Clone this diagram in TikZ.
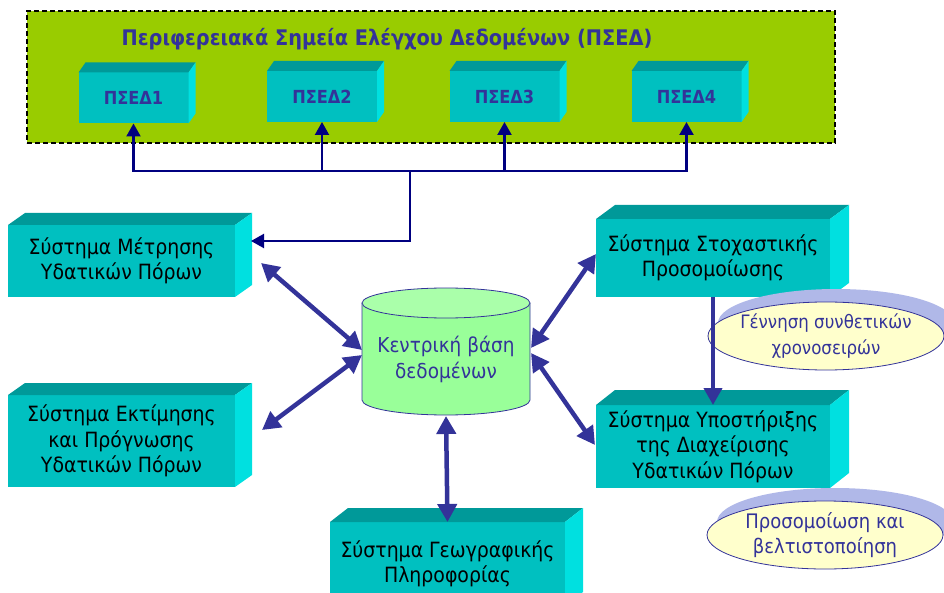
\documentclass[tikz,border=0pt]{standalone}
\usepackage{fontspec}
\setmainfont[FakeStretch=0.9]{DejaVu Sans}
\usetikzlibrary{arrows.meta,calc,shadows,shapes.geometric}
\definecolor{bggreen}{HTML}{99CC00}
\definecolor{frontc}{HTML}{00C0C0}
\definecolor{topc}{HTML}{009999}
\definecolor{sidec}{HTML}{00E0E0}
\definecolor{navyc}{HTML}{000080}
\definecolor{bluec}{HTML}{333399}
\definecolor{dbbody}{HTML}{99FF99}
\definecolor{dbtop}{HTML}{AAFFAA}
\definecolor{ellc}{HTML}{FFFFCC}
\definecolor{shadc}{HTML}{B0B8E8}
\newcommand\boxfaces[3]{%
  \fill[topc] (#1.north west) -- ++(#2,#3) -- ($(#1.north east)+(#2,#3)$) -- (#1.north east) -- cycle;
  \fill[sidec] (#1.north east) -- ++(#2,#3) -- ($(#1.south east)+(#2,#3)$) -- (#1.south east) -- cycle;}
\begin{document}
\begin{tikzpicture}[x=1pt,y=-1pt,
  front/.style={fill=frontc, inner sep=0pt, outer sep=0pt, align=center,
    font=\fontsize{21}{25.5}\selectfont},
  psed/.style={front, minimum width=110pt, minimum height=51pt, text=bluec,
    font=\fontsize{18}{20}\selectfont\bfseries},
  ell/.style={ellipse, draw=bluec, line width=0.8pt, fill=ellc, inner xsep=-30pt, inner ysep=-6pt,
    minimum width=236pt, minimum height=68pt, align=center, text=bluec,
    font=\fontsize{20}{25.5}\selectfont,
    general shadow={fill=shadc, draw=none, shadow xshift=10pt, shadow yshift=13pt}},
  navyarrow/.style={draw=navyc, line width=2.2pt, -{Triangle[length=13pt,width=14pt]}},
  thickarrow/.style={draw=bluec, line width=4.5pt,
    {Triangle[length=18pt,width=19pt]}-{Triangle[length=18pt,width=19pt]}},
  onearrow/.style={draw=bluec, line width=4pt, -{Triangle[length=17pt,width=18pt]}},
]
\useasboundingbox (0,0) rectangle (944,593);

% PSED group
\node[fill=bggreen, draw=black, line width=2pt, dash pattern=on 5pt off 3pt,
  minimum width=808pt, minimum height=132pt, inner sep=0pt] (grp) at (431,77) {};
\node[text=bluec, font=\fontsize{21.5}{24}\selectfont\bfseries, anchor=base] (title) at (387,46)
  {Περιφερειακά Σημεία Ελέγχου Δεδομένων (ΠΣΕΔ)};
\node[psed] (p1) at (133.5,98) {ΠΣΕΔ1};
\node[psed] (p2) at (322,96.5) {ΠΣΕΔ2};
\node[psed] (p3) at (504.5,96.5) {ΠΣΕΔ3};
\node[psed] (p4) at (686.5,96.5) {ΠΣΕΔ4};
\boxfaces{p1}{7}{-10}
\boxfaces{p2}{7}{-10}
\boxfaces{p3}{7}{-10}
\boxfaces{p4}{7}{-10}

% main boxes
\node[front, minimum width=227pt, minimum height=72pt] (m) at (121.5,261)
  {Σύστημα Μέτρησης\\Υδατικών Πόρων};
\boxfaces{m}{17}{-12}
\node[front, minimum width=227pt, minimum height=92pt] (e) at (121.5,441)
  {Σύστημα Εκτίμησης\\και Πρόγνωσης\\Υδατικών Πόρων};
\boxfaces{e}{17}{-12}
\node[front, minimum width=234pt, minimum height=78pt] (s) at (713,258)
  {Σύστημα Στοχαστικής\\Προσομοίωσης};
\boxfaces{s}{19}{-14}
\node[front, minimum width=234pt, minimum height=83pt] (u) at (713,446.5)
  {Σύστημα Υποστήριξης\\της Διαχείρισης\\Υδατικών Πόρων};
\boxfaces{u}{19}{-15}
\node[front, minimum width=235pt, minimum height=84pt] (g) at (447.5,564)
  {Σύστημα Γεωγραφικής\\Πληροφορίας};
\boxfaces{g}{18}{-14}

% database cylinder
\fill[dbbody] (362,303) -- (362,400) arc[start angle=180,end angle=0,x radius=84,y radius=15]
  -- (530,303) arc[start angle=0,end angle=180,x radius=84,y radius=15] -- cycle;
\draw[bluec, line width=0.8pt] (362,303) -- (362,400) arc[start angle=180,end angle=0,x radius=84,y radius=15] -- (530,303);
\draw[bluec, line width=0.8pt, fill=dbtop] (446,303) ellipse[x radius=84, y radius=15];
\node[text=bluec, align=center, font=\fontsize{20.5}{26}\selectfont] (db) at (446,359)
  {Κεντρική βάση\\δεδομένων};

% ellipses
\node[ell, font=\fontsize{18.5}{25.5}\selectfont] (e1) at (826,336) {Γέννηση συνθετικών\\χρονοσειρών};
\node[ell] (e2) at (825,535) {Προσομοίωση και\\βελτιστοποίηση};

% connectors
\coordinate (bus) at (410,171);
\coordinate (mr) at (251,241);
\draw[navyarrow] (bus) -| (p1.south);
\draw[navyarrow] (bus) -| (p2.south);
\draw[navyarrow] (bus) -| (p3.south);
\draw[navyarrow] (bus) -| (p4.south);
\draw[navyarrow] (bus) |- (mr);

\coordinate (mlo) at (261,263);
\coordinate (elo) at (262,430);
\coordinate (dbl1) at (362,350);
\coordinate (dbl2) at (362,355);
\coordinate (dbr1) at (531,348);
\coordinate (dbr2) at (531,353);
\coordinate (dbb) at (446,416);
\coordinate (slo) at (596,254);
\coordinate (ulo) at (595,445);
\draw[thickarrow] (mlo) -- (dbl1);
\draw[thickarrow] (elo) -- (dbl2);
\draw[thickarrow] (slo) -- (dbr1);
\draw[thickarrow] (ulo) -- (dbr2);
\draw[thickarrow] (dbb) -- (g.north);
\draw[onearrow] (s.south) -- (u.north);
\end{tikzpicture}
\end{document}
